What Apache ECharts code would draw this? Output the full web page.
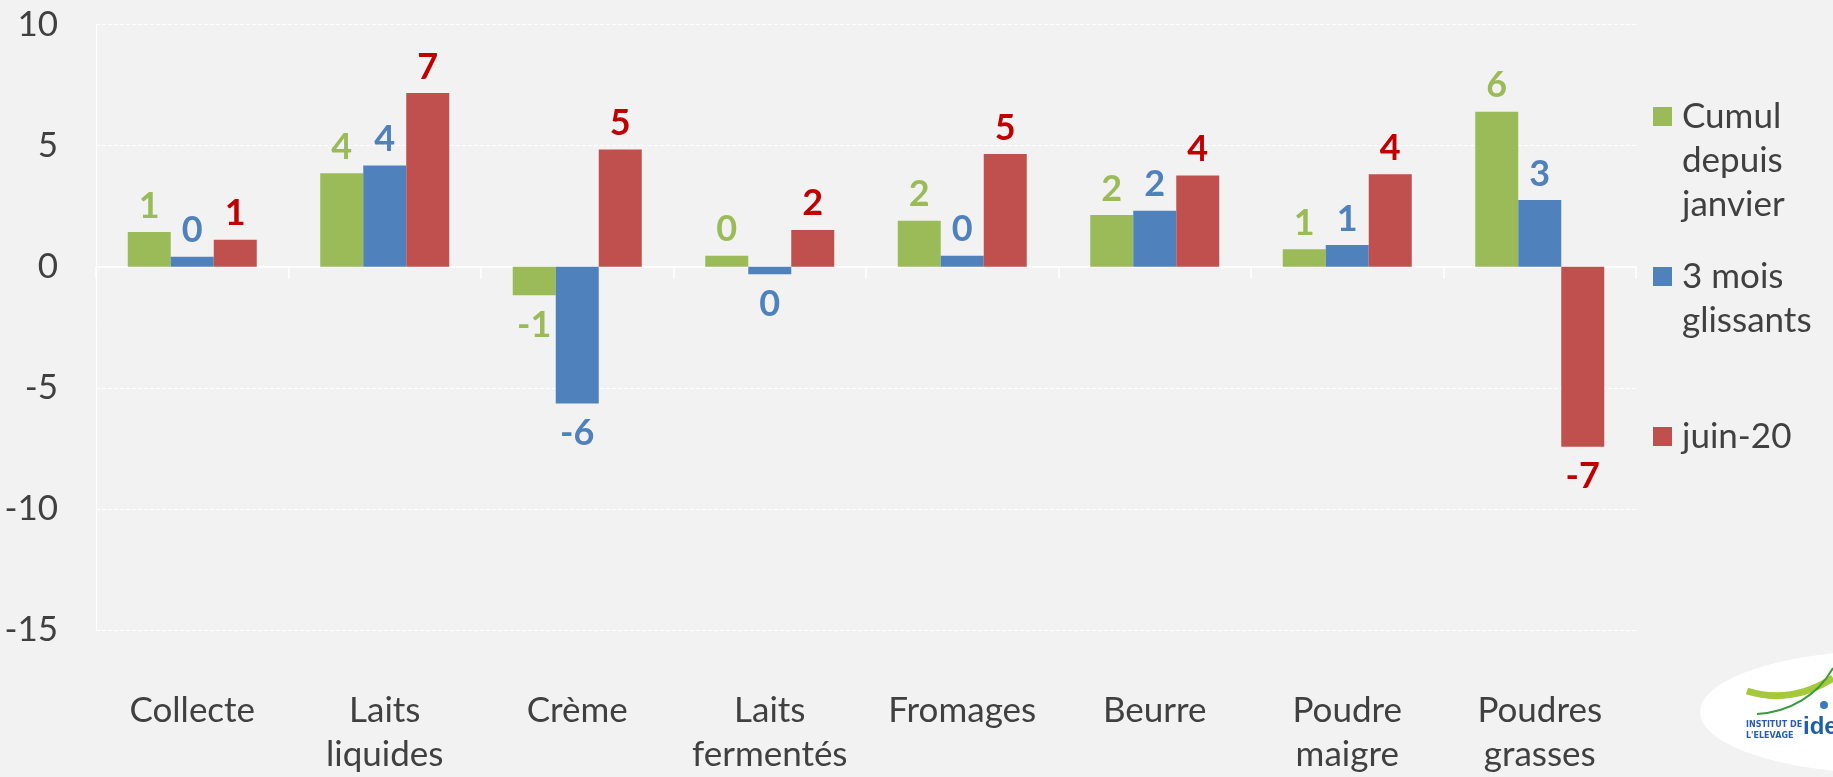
<!DOCTYPE html>
<html>
<head>
<meta charset="utf-8">
<script src="https://cdn.jsdelivr.net/npm/echarts@6/dist/echarts.min.js"></script>
<style>
  html, body { margin: 0; padding: 0; background: #f2f2f2; }
  #main { width: 1833px; height: 777px; }
</style>
</head>
<body>
<div id="main"></div>
<script>
/* données (% évolution) */
var categories = ['Collecte', 'Laits\nliquides', 'Crème', 'Laits\nfermentés', 'Fromages', 'Beurre', 'Poudre\nmaigre', 'Poudres\ngrasses'];
var seriesNames = ['Cumul\ndepuis\njanvier', '3 mois\nglissants', 'juin-20'];
var cumulJanvier = [1.43, 3.86, -1.18, 0.45, 1.90, 2.13, 0.72, 6.40];
var troisMois = [0.41, 4.18, -5.65, -0.31, 0.45, 2.31, 0.90, 2.75];
var juin20 = [1.11, 7.17, 4.84, 1.52, 4.65, 3.77, 3.82, -7.43];
var yMin = -15;
var yMax = 10;
var yStep = 5;

var barColors = ['#9bbb59', '#4f81bd', '#c0504d'];
var labelColors = ['#9bbb59', '#4f81bd', '#c00000'];
var textColor = '#404040';
var font = 'Lato, "Open Sans", sans-serif';

var myChart = echarts.init(document.getElementById('main'));

/* une série de barres */
function makeSeries(idx, values) {
  return {
    name: seriesNames[idx],
    type: 'bar',
    xAxisIndex: 0,
    barWidth: 43,
    barGap: '0%',
    itemStyle: { color: barColors[idx] },
    label: {
      show: true,
      color: labelColors[idx],
      fontFamily: font,
      fontWeight: 'bold',
      fontSize: 36,
      formatter: function (p) { return String(Math.round(p.value)); }
    },
    data: values.map(function (v) {
      return { value: v, label: { position: v < 0 ? 'bottom' : 'top', distance: v < 0 ? 12 : 8 } };
    })
  };
}

/* légende : une par série, icône alignée sur la première ligne
   (lignes vides en tête pour que le texte descende) */
var legendIconTops = [107, 267, 427];
var legends = seriesNames.map(function (name, i) {
  var n = name.split('\n').length;
  var lead = new Array(n).join('\n');
  return {
    data: [name],
    orient: 'vertical',
    left: 1653,
    top: legendIconTops[i] + 9.5 - (2 * n - 1) * 22,
    padding: 0,
    itemWidth: 19,
    itemHeight: 19,
    icon: 'rect',
    selectedMode: false,
    formatter: function (nm) { return lead + nm; },
    textStyle: {
      color: textColor,
      fontFamily: font,
      fontSize: 35,
      lineHeight: 44,
      padding: [0, 0, 0, 5]
    }
  };
});

option = {
  backgroundColor: '#f2f2f2',
  animation: false,
  legend: legends,
  grid: { left: 96, right: 197, top: 24.5, bottom: 140.5 },
  xAxis: [
    {
      type: 'category',
      data: categories,
      position: 'bottom',
      axisLine: { show: false, onZero: false },
      axisTick: { show: false },
      axisLabel: {
        color: textColor,
        fontFamily: font,
        fontSize: 35,
        lineHeight: 44,
        margin: 59,
        interval: 0
      }
    },
    {
      type: 'category',
      data: categories,
      position: 'top',
      axisLine: { show: true, onZero: true, lineStyle: { color: '#ffffff', width: 1.5 } },
      axisTick: { show: true, inside: true, length: 12, lineStyle: { color: '#ffffff', width: 1.5 } },
      axisLabel: { show: false }
    }
  ],
  yAxis: {
    type: 'value',
    min: yMin,
    max: yMax,
    interval: yStep,
    axisLine: { show: true, lineStyle: { color: '#ffffff', width: 1 } },
    axisTick: { show: false },
    splitLine: { lineStyle: { color: '#ffffff', type: 'dashed', width: 1 } },
    axisLabel: { color: textColor, fontFamily: font, fontSize: 35, margin: 38 }
  },
  series: [
    makeSeries(0, cumulJanvier),
    makeSeries(1, troisMois),
    makeSeries(2, juin20)
  ],
  /* logo Institut de l'Elevage en bas à droite */
  graphic: [
    { type: 'ellipse', shape: { cx: 1895, cy: 712, rx: 195, ry: 62 }, style: { fill: '#ffffff' } },
    { type: 'bezierCurve', shape: { x1: 1747, y1: 691, x2: 1833, y2: 678, cpx1: 1775, cpy1: 700, cpx2: 1805, cpy2: 696 },
      style: { stroke: '#a6c93a', lineWidth: 7, fill: null } },
    { type: 'bezierCurve', shape: { x1: 1757, y1: 714, x2: 1833, y2: 668, cpx1: 1790, cpy1: 712, cpx2: 1818, cpy2: 695 },
      style: { stroke: '#3b9a3e', lineWidth: 2, fill: null } },
    { type: 'circle', shape: { cx: 1824, cy: 705, r: 4 }, style: { fill: '#3a78c2' } },
    { type: 'text', x: 1746, y: 721, style: { text: 'INSTITUT DE', fill: '#2a5caa', font: 'bold 8px "DejaVu Sans"' } },
    { type: 'text', x: 1746, y: 732, style: { text: "L'ELEVAGE", fill: '#2a5caa', font: 'bold 8px "DejaVu Sans"' } },
    { type: 'text', x: 1803, y: 715, style: { text: 'ide', fill: '#1f5faa', font: 'bold 24px "Liberation Sans"' } }
  ]
};
myChart.setOption(option);
</script>
</body>
</html>
